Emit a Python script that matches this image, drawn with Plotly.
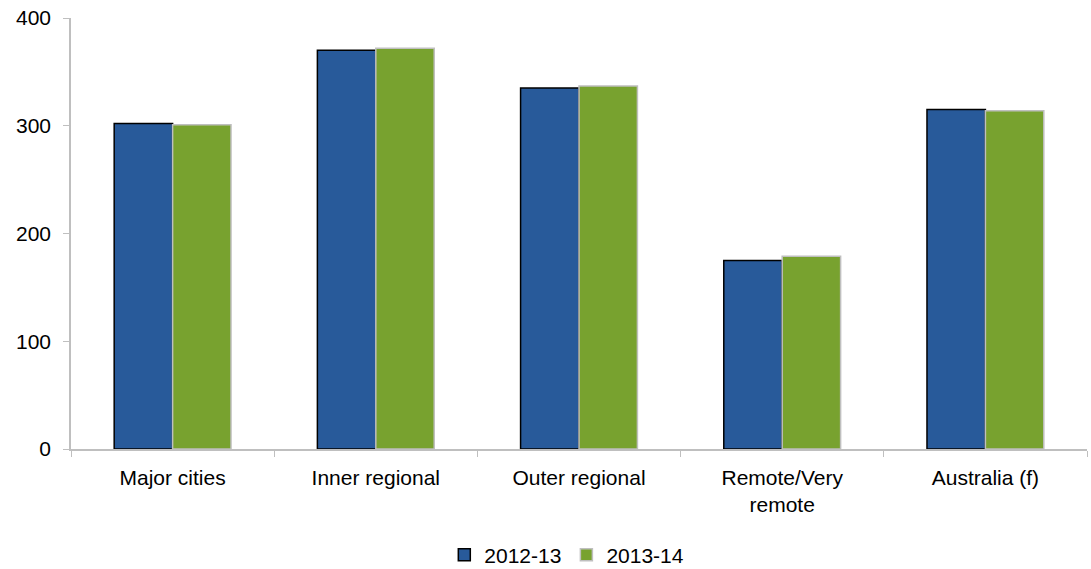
import plotly.graph_objects as go

categories = ["Major cities", "Inner regional", "Outer regional", "Remote/Very<br>remote", "Australia (f)"]
series_names = ["2012-13", "2013-14"]
values_2012_13 = [302, 370, 335, 175, 315]
values_2013_14 = [301, 372, 337, 179, 314]
y_ticks = [0, 100, 200, 300, 400]

fig = go.Figure()
fig.add_trace(go.Bar(
    x=categories, y=values_2012_13, name=series_names[0],
    marker=dict(color="#285a9a", line=dict(color="#000000", width=1.5)),
))
fig.add_trace(go.Bar(
    x=categories, y=values_2013_14, name=series_names[1],
    marker=dict(color="#78a22f", line=dict(color="#bfbfbf", width=1.5)),
))

font = dict(family="Liberation Sans, Arial, sans-serif", size=21, color="#000000")
fig.update_layout(
    width=1091, height=569,
    margin=dict(l=71, r=4, t=18, b=120, autoexpand=False),
    paper_bgcolor="white", plot_bgcolor="white",
    barmode="group", bargap=0.425, bargroupgap=0,
    font=font,
    showlegend=True,
    legend=dict(orientation="h", x=0.488, xanchor="center", y=-0.246, yanchor="middle",
                font=font, itemwidth=30, traceorder="normal"),
    xaxis=dict(
        showline=True, linecolor="#bfbfbf", linewidth=1.5,
        ticks="outside", tickson="boundaries", ticklen=6, tickcolor="#bfbfbf",
        showgrid=False, tickfont=font, ticklabelstandoff=9,
    ),
    yaxis=dict(
        range=[0, 400], tickvals=y_ticks, showline=True, linecolor="#bfbfbf", linewidth=1.5,
        ticks="outside", ticklen=6, tickcolor="#bfbfbf", showgrid=False,
        zeroline=False, tickfont=font, ticklabelstandoff=8,
    ),
)

fig.write_html("out.html", config={"displayModeBar": False},
               post_script="document.body.style.margin='0px';")
